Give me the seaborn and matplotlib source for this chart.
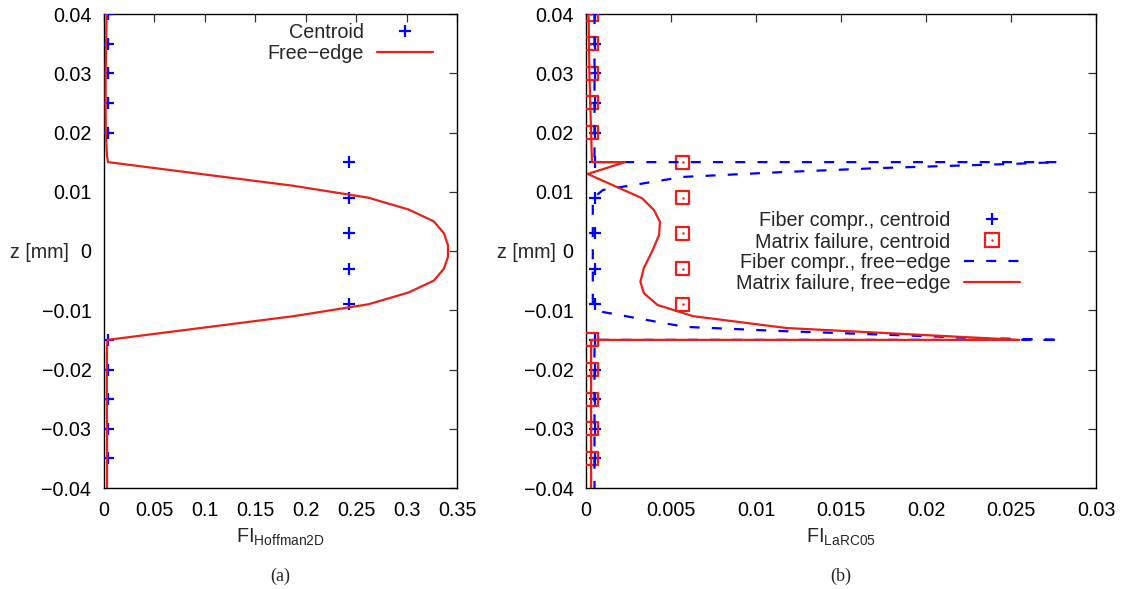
import numpy as np
import pandas as pd
import matplotlib
matplotlib.use("Agg")
import matplotlib.pyplot as plt
import seaborn as sns
from matplotlib.lines import Line2D
from matplotlib.legend_handler import HandlerTuple

# ---------------- data ----------------
z_centroid = [0.04, 0.035, 0.03, 0.025, 0.02, 0.015, 0.009, 0.003,
              -0.003, -0.009, -0.015, -0.02, -0.025, -0.03, -0.035]

# (a) Hoffman2D
fi_hoff_centroid = [0.004, 0.004, 0.004, 0.004, 0.004, 0.243, 0.243, 0.243,
                    0.243, 0.243, 0.004, 0.004, 0.004, 0.004, 0.004]
z_hoff_edge = [0.04, 0.035, 0.03, 0.025, 0.02, 0.016, 0.015, 0.011, 0.009,
               0.007, 0.005, 0.003, 0.001, -0.001, -0.003, -0.005, -0.007,
               -0.009, -0.011, -0.015, -0.016, -0.02, -0.025, -0.03, -0.035, -0.04]
fi_hoff_edge = [0.0026, 0.0021, 0.0017, 0.0016, 0.0018, 0.003, 0.004, 0.188, 0.262,
                0.302, 0.327, 0.337, 0.341, 0.341, 0.337, 0.327, 0.302,
                0.262, 0.188, 0.0035, 0.003, 0.0028, 0.0028, 0.003, 0.003, 0.003]

# (b) LaRC05
fi_fiber_centroid = [0.0005, 0.0005, 0.0005, 0.0005, 0.0005, 0.0005, 0.0005, 0.0005,
                     0.0005, 0.0005, 0.0005, 0.0005, 0.0005, 0.0005, 0.0005]
fi_matrix_centroid = [0.0003, 0.0003, 0.0003, 0.0003, 0.0003, 0.0057, 0.0057, 0.0057,
                      0.0057, 0.0057, 0.0003, 0.0003, 0.0003, 0.0003, 0.0003]
z_fiber_edge = [0.04, 0.015, 0.015, 0.0147, 0.0140, 0.0133, 0.0125, 0.0103, 0.0089,
                -0.0089, -0.0103, -0.0128, -0.0135, -0.0141, -0.0147, -0.015, -0.015, -0.04]
fi_fiber_edge = [0.0005, 0.0005, 0.0278, 0.0251, 0.0173, 0.0114, 0.0057, 0.0010, 0.0004,
                 0.0004, 0.0010, 0.0058, 0.0114, 0.0173, 0.0232, 0.0279, 0.0005, 0.0005]
z_matrix_edge = [0.04, 0.03, 0.02, 0.015, 0.015, 0.013, 0.0089, 0.0069, 0.0049, 0.0027,
                 0.0, -0.0029, -0.0052, -0.0071, -0.0091, -0.011, -0.013, -0.015, -0.015, -0.04]
fi_matrix_edge = [0.00015, 0.0002, 0.0003, 0.00035, 0.0023, 0.0001, 0.0033, 0.0040, 0.00435, 0.0043,
                  0.0039, 0.0034, 0.0032, 0.0034, 0.0042, 0.0063, 0.0118, 0.0255, 0.0003, 0.0003]

yticks = [-0.04, -0.03, -0.02, -0.01, 0, 0.01, 0.02, 0.03, 0.04]
ytick_labels = ["\u22120.04", "\u22120.03", "\u22120.02", "\u22120.01", "0",
                "0.01", "0.02", "0.03", "0.04"]
xticks_a = [0, 0.05, 0.1, 0.15, 0.2, 0.25, 0.3, 0.35]
xtick_labels_a = ["0", "0.05", "0.1", "0.15", "0.2", "0.25", "0.3", "0.35"]
xticks_b = [0, 0.005, 0.01, 0.015, 0.02, 0.025, 0.03]
xtick_labels_b = ["0", "0.005", "0.01", "0.015", "0.02", "0.025", "0.03"]

# ---------------- style ----------------
sns.set_theme(style="white")
plt.rcParams["font.family"] = ["Liberation Sans", "DejaVu Sans"]
plt.rcParams["mathtext.fontset"] = "custom"
plt.rcParams["mathtext.rm"] = "Liberation Sans"
plt.rcParams["mathtext.it"] = "Liberation Sans"

BLUE = "#0000ff"
RED = "#e8201a"
FS = 14.2
DASH = (0, (4.5, 5.5))

W, H = 1122, 589
fig = plt.figure(figsize=(W / 100, H / 100), dpi=100)
axA = fig.add_axes([104 / W, 1 - 488 / H, 353 / W, 474 / H])
axB = fig.add_axes([586 / W, 1 - 488 / H, 510 / W, 474 / H])

# ---------------- panel (a) ----------------
sns.scatterplot(x=fi_hoff_centroid, y=z_centroid, marker="+", s=80, color=BLUE,
                linewidth=1.6, ax=axA, zorder=3)
sns.lineplot(x=fi_hoff_edge, y=z_hoff_edge, sort=False, estimator=None,
             color=RED, lw=1.6, ax=axA, zorder=4)

# ---------------- panel (b) ----------------
sns.scatterplot(x=fi_fiber_centroid, y=z_centroid, marker="+", s=80, color=BLUE,
                linewidth=1.6, ax=axB, zorder=3)
sns.scatterplot(x=fi_matrix_centroid, y=z_centroid, marker="s", s=88, color=RED,
                edgecolor=RED, linewidth=1.6, ax=axB, zorder=3)
axB.collections[-1].set_facecolor("none")
sns.scatterplot(x=fi_matrix_centroid, y=z_centroid, marker="o", s=3, color=RED,
                linewidth=0, ax=axB, zorder=3)
sns.lineplot(x=fi_fiber_edge, y=z_fiber_edge, sort=False, estimator=None,
             color=BLUE, lw=1.6, linestyle=DASH, ax=axB, zorder=4)
sns.lineplot(x=fi_matrix_edge, y=z_matrix_edge, sort=False, estimator=None,
             color=RED, lw=1.6, ax=axB, zorder=5)

# ---------------- axes formatting ----------------
for ax, xt, xtl, xmax in [(axA, xticks_a, xtick_labels_a, 0.35),
                          (axB, xticks_b, xtick_labels_b, 0.03)]:
    ax.set_xlim(0, xmax)
    ax.set_ylim(-0.04, 0.04)
    ax.set_xticks(xt)
    ax.set_xticklabels(xtl)
    ax.set_yticks(yticks)
    ax.set_yticklabels(ytick_labels)
    ax.tick_params(direction="in", top=True, right=True, length=6, width=0.9,
                   color="#333333", labelsize=FS, pad=9, labelcolor="black")
    for sp in ax.spines.values():
        sp.set_visible(True)
        sp.set_color("black")
        sp.set_linewidth(1.0)
    ax.set_xlabel("")
    ax.set_ylabel("")
    ax.grid(False)

axA.text(-35 / 353, (488 - 252) / 474, "z [mm]", transform=axA.transAxes,
         ha="right", va="center", fontsize=FS)
axB.text(-30 / 510, (488 - 252) / 474, "z [mm]", transform=axB.transAxes,
         ha="right", va="center", fontsize=FS)

axA.text(0.5, (488 - 543) / 474, r"FI$_{\mathregular{Hoffman2D}}$",
         transform=axA.transAxes, ha="center", va="baseline", fontsize=FS)
axB.text(0.5, (488 - 543) / 474, r"FI$_{\mathregular{LaRC05}}$",
         transform=axB.transAxes, ha="center", va="baseline", fontsize=FS)

axA.text(0.5, (488 - 581) / 474, "(a)", transform=axA.transAxes, ha="center",
         va="baseline", fontsize=13, family=["Liberation Serif", "DejaVu Serif"])
axB.text(0.5, (488 - 581) / 474, "(b)", transform=axB.transAxes, ha="center",
         va="baseline", fontsize=13, family=["Liberation Serif", "DejaVu Serif"])

# ---------------- legends ----------------
hA = [Line2D([], [], ls="none", marker="+", color=BLUE, ms=9, mew=1.6),
      Line2D([], [], color=RED, lw=1.6)]
axA.legend(hA, ["Centroid", "Free\u2212edge"], markerfirst=False, frameon=False,
           loc="center right", bbox_to_anchor=((433 - 104) / 353, (488 - 43) / 474),
           bbox_transform=axA.transAxes, handlelength=2.85, handletextpad=0.67,
           labelspacing=0.1, borderpad=0, borderaxespad=0, fontsize=FS)

sq = Line2D([], [], ls="none", marker="s", mfc="none", mec=RED, ms=9.4, mew=1.6)
dot = Line2D([], [], ls="none", marker="o", color=RED, ms=1.7, mew=0)
hB = [Line2D([], [], ls="none", marker="+", color=BLUE, ms=9, mew=1.6),
      (sq, dot),
      Line2D([], [], color=BLUE, lw=1.6, ls=DASH),
      Line2D([], [], color=RED, lw=1.6)]
labB = ["Fiber compr., centroid", "Matrix failure, centroid",
        "Fiber compr., free\u2212edge", "Matrix failure, free\u2212edge"]
axB.legend(hB, labB, handler_map={tuple: HandlerTuple(ndivide=1, pad=0)},
           markerfirst=False, frameon=False, loc="center right",
           bbox_to_anchor=((1020 - 586) / 510, (488 - 252) / 474),
           bbox_transform=axB.transAxes, handlelength=2.85, handletextpad=0.67,
           labelspacing=0.1, borderpad=0, borderaxespad=0, fontsize=FS)

fig.savefig("out.png", dpi=100, facecolor="white")
